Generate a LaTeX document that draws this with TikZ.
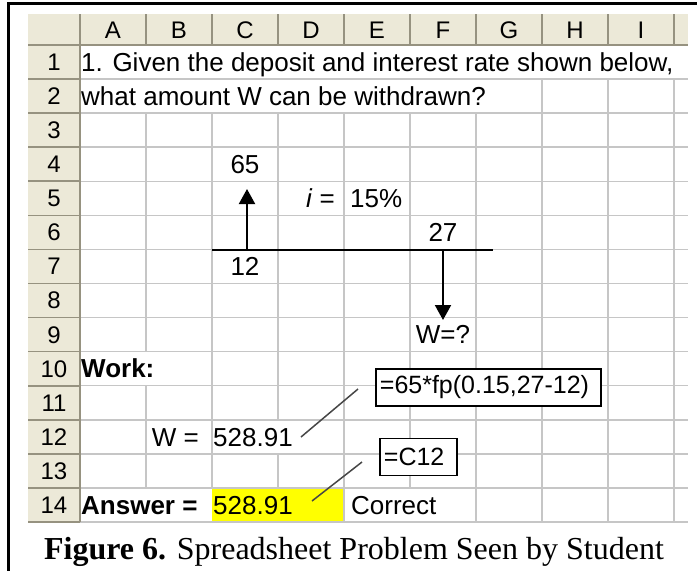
\documentclass[tikz,border=0pt]{standalone}
\usepackage{fontspec}
\setmainfont{Liberation Sans}
\newfontfamily\capfont{Liberation Serif}
\usetikzlibrary{arrows.meta}
\definecolor{gridgray}{RGB}{198,198,198}
\definecolor{hdrfill}{RGB}{236,233,216}
\definecolor{hdrline}{RGB}{150,146,128}
\definecolor{leadgray}{RGB}{70,70,70}
\definecolor{cellyellow}{RGB}{255,255,0}
\tikzset{
  cell/.style={font=\fontsize{26}{26}\selectfont, inner sep=0pt, anchor=base west},
  cellr/.style={cell, anchor=base east},
  cellc/.style={cell, anchor=base},
  hdrtext/.style={font=\fontsize{24}{24}\selectfont, inner sep=0pt, anchor=base},
  gridline/.style={draw=gridgray, line width=1.5pt},
  hdrrule/.style={draw=hdrline, line width=1.6pt},
  fbox/.style={draw=black, line width=1.8pt, fill=white, font=\fontsize{25}{25}\selectfont,
    inner ysep=0pt, inner xsep=4pt, minimum height=37pt, anchor=north west, align=left},
  leader/.style={draw=leadgray, line width=1.5pt},
  flow/.style={line width=2pt, -{Triangle[width=16pt,length=15pt]}},
  timeline/.style={line width=2pt},
}
\begin{document}
\begin{tikzpicture}[x=1pt,y=-1pt]
\useasboundingbox (0,0) rectangle (697,571);
\fill[white] (0,0) rectangle (697,571);
% header fills
\fill[hdrfill] (28,14) rectangle (688,45);
\fill[hdrfill] (28,45) rectangle (80,521.98);
% yellow answer cell
\fill[cellyellow] (212,487.91) rectangle (344,521.98);
% horizontal grid lines
\foreach \n in {1,...,14} {
  \pgfmathsetmacro{\yy}{45+34.07*\n}
  \draw[gridline] (80,\yy) -- (688,\yy);
  \draw[hdrrule] (28,\yy) -- (80,\yy);
}
% vertical grid lines (hidden where text overflows)
\draw[gridline] (146,113.14) -- (146,351.63);
\draw[gridline] (146,385.70) -- (146,487.91);
\draw[gridline] (212,113.14) -- (212,487.91);
\draw[gridline] (278,113.14) -- (278,419.77);
\draw[gridline] (278,453.84) -- (278,487.91);
\draw[gridline] (344,113.14) -- (344,521.98);
\draw[gridline] (410,113.14) -- (410,487.91);
\draw[gridline] (476,113.14) -- (476,521.98);
\foreach \x in {542,608,674} { \draw[gridline] (\x,79.07) -- (\x,521.98); }
% header rules
\draw[hdrrule] (28,45) -- (688,45);
\draw[hdrrule] (80,14) -- (80,521.98);
\foreach \x in {146,212,...,674} { \draw[hdrrule] (\x,14) -- (\x,45); }
% column letters
\foreach \c [count=\k from 0] in {A,B,C,D,E,F,G,H,I} {
  \node[hdrtext] (col\c) at (113+66*\k,38.5) {\c};
}
% row numbers
\foreach \n in {1,...,14} {
  \pgfmathsetmacro{\yy}{45+34.07*(\n-1)+25.5}
  \node[hdrtext] (row\n) at (54,\yy) {\n};
}
% cell texts
\node[cell] (q1) at (81,71.3) {1. Given the deposit and interest rate shown below,};
\node[cell] (q2) at (81,105.4) {what amount W can be withdrawn?};
\node[cellc] (v65) at (245,173.5) {65};
\node[cellr] (ilab) at (335,207.6) {\textit{i} =};
\node[cell] (rate) at (350,207.6) {15\%};
\node[cellc] (v27) at (443,241.7) {27};
\node[cellc] (v12) at (245,275.7) {12};
\node[cellc] (wq) at (443,343.9) {W=?};
\node[cell] (work) at (81,377.9) {\textbf{Work:}};
\node[cellr] (wlab) at (199,446.1) {W =};
\node[cell] (wval) at (213,446.1) {528.91};
\node[cell] (ans) at (81,514.2) {\textbf{Answer =}};
\node[cell] (aval) at (213,514.2) {528.91};
\node[cell] (corr) at (351,514.2) {Correct};
% cash-flow diagram
\coordinate (tl0) at (212,250);
\coordinate (tl1) at (493,250);
\coordinate (up0) at (247,250);
\coordinate (up1) at (247,189);
\coordinate (dn0) at (443,250);
\coordinate (dn1) at (443,320);
\draw[timeline] (tl0) -- (tl1);
\draw[flow] (up0) -- (up1);
\draw[flow] (dn0) -- (dn1);
% formula call-outs
\node[fbox, minimum width=225pt, text width=217pt] (f1) at (375,368) {\mbox{=65*fp(0.15,27-12)}};
\node[fbox, minimum width=77pt, text width=69pt] (f2) at (379,437.5) {\mbox{=C12}};
\coordinate (l1a) at (301,437);
\coordinate (l1b) at (358,389);
\coordinate (l2a) at (312,501);
\coordinate (l2b) at (362,462);
\draw[leader] (l1a) -- (l1b);
\draw[leader] (l2a) -- (l2b);
% frame
\draw[line width=2.5pt] (8.5,575) -- (8.5,3.7) -- (700,3.7);
% caption
\node[font=\capfont\fontsize{32}{32}\selectfont, inner sep=0pt, anchor=base] (cap) at (354,559)
  {\textbf{Figure 6.} Spreadsheet Problem Seen by Student};
\end{tikzpicture}
\end{document}
